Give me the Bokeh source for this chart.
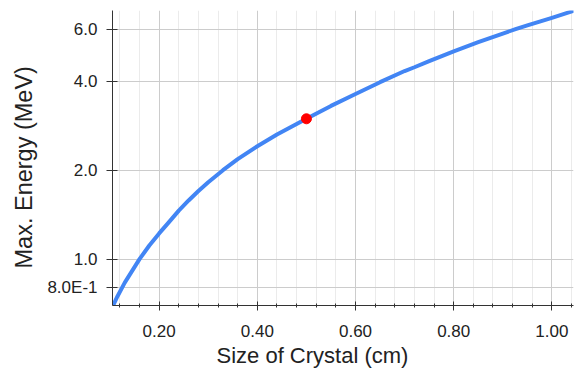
from bokeh.plotting import figure
from bokeh.models import Range1d, FixedTicker, NumeralTickFormatter, Title
from bokeh.embed import file_html
from bokeh.resources import INLINE

# Data
size_cm = [0.105, 0.115, 0.13, 0.16, 0.18, 0.20, 0.22, 0.24, 0.26, 0.28,
           0.30, 0.33, 0.36, 0.40, 0.44, 0.50, 0.55, 0.60, 0.65, 0.70,
           0.72, 0.75, 0.80, 0.85, 0.90, 0.926, 0.95, 1.00, 1.044]
max_energy = [0.69, 0.748, 0.833, 1.0, 1.112, 1.222, 1.334, 1.46, 1.58, 1.70,
              1.82, 2.0, 2.18, 2.41, 2.64, 2.985, 3.30, 3.62, 3.97, 4.33,
              4.46, 4.68, 5.05, 5.42, 5.80, 6.0, 6.18, 6.55, 6.92]
marker_size = [0.50]
marker_energy = [2.985]

x_ticks = [0.2, 0.4, 0.6, 0.8, 1.0]
x_minor_ticks = [0.12, 0.16, 0.24, 0.28, 0.32, 0.36, 0.44, 0.48, 0.52, 0.56,
                 0.64, 0.68, 0.72, 0.76, 0.84, 0.88, 0.92, 0.96, 1.04]
y_ticks = [0.8, 1, 2, 4, 6]
y_tick_labels = ["8.0E-1", "1.0", "2.0", "4.0", "6.0"]
x_title = "Size of Crystal (cm)"
y_title = "Max. Energy (MeV)"

FONT = "Liberation Sans"

p = figure(width=577, height=371, y_axis_type="log",
           x_range=Range1d(0.105, 1.044), y_range=Range1d(0.697, 6.94),
           output_backend="svg", toolbar_location=None,
           min_border_left=112, min_border_right=4,
           min_border_top=10, min_border_bottom=66)
p.outline_line_color = None
p.background_fill_color = "white"
p.border_fill_color = "white"

# x axis
xa = p.xaxis[0]
xa.ticker = FixedTicker(ticks=x_ticks, minor_ticks=x_minor_ticks)
xa.formatter = NumeralTickFormatter(format="0.00")
# y axis
ya = p.yaxis[0]
ya.ticker = FixedTicker(ticks=y_ticks, minor_ticks=[])
ya.major_label_overrides = {float(t): lab for t, lab in zip(y_ticks, y_tick_labels)}

for ax in (xa, ya):
    ax.axis_line_color = "#333333"
    ax.axis_line_width = 1
    ax.major_tick_line_color = "#333333"
    ax.minor_tick_line_color = "#333333"
    ax.major_label_text_font = FONT
    ax.major_label_text_font_size = "17px"
    ax.major_label_text_color = "#222222"

xa.major_tick_in = 4
xa.major_tick_out = 5
xa.minor_tick_in = 2
xa.minor_tick_out = 2
xa.major_label_standoff = 14

ya.major_tick_in = 5
ya.major_tick_out = 6
ya.minor_tick_in = 0
ya.minor_tick_out = 0
ya.major_label_standoff = 9

# axis titles as side titles (left-aligned with an offset)
p.add_layout(Title(text=x_title, align="left", offset=104, standoff=3,
                   text_font=FONT, text_font_size="22px",
                   text_font_style="normal", text_color="#222222"), "below")
p.add_layout(Title(text=y_title, align="left", offset=37, standoff=15,
                   text_font=FONT, text_font_size="23.5px",
                   text_font_style="normal", text_color="#222222"), "left")

# grids
p.xgrid.grid_line_color = "#cccccc"
p.xgrid.minor_grid_line_color = "#ebebeb"
p.ygrid.grid_line_color = "#cccccc"
p.ygrid.minor_grid_line_color = None

p.line(size_cm, max_energy, line_color="#4285f4", line_width=4,
       line_join="round", line_cap="round")
p.scatter(marker_size, marker_energy, size=10, fill_color="#ff0000",
          line_color="#ff0000")

open("out.html", "w").write(file_html(p, INLINE))
